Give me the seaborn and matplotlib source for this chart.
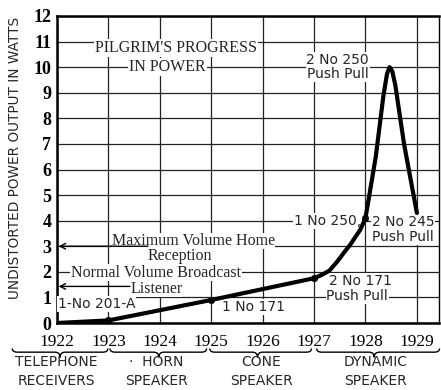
import matplotlib
matplotlib.use("Agg")
import matplotlib.pyplot as plt
import matplotlib.transforms as mtransforms
from matplotlib.path import Path
from matplotlib.patches import PathPatch
import seaborn as sns
import pandas as pd

# Power curve (year, watts)
curve_year = [1922.0, 1923.0, 1925.0, 1927.0, 1927.15, 1927.3, 1927.45, 1927.6,
              1927.7, 1927.8, 1927.9, 1928.0, 1928.2, 1928.35, 1928.42, 1928.47,
              1928.52, 1928.58, 1928.75, 1929.0]
curve_watts = [0.0, 0.1, 0.9, 1.75, 1.88, 2.05, 2.4, 2.8,
               3.05, 3.35, 3.65, 4.1, 6.5, 8.9, 9.75, 10.0,
               9.85, 9.3, 7.0, 4.3]

# Tube milestones marked on the curve
tube_year = [1923.0, 1925.0, 1927.0, 1928.0]
tube_watts = [0.1, 0.9, 1.75, 4.1]

year_ticks = [1922, 1923, 1924, 1925, 1926, 1927, 1928, 1929]
watt_ticks = list(range(0, 13))

# Loudspeaker eras along the time axis
era_start = [1921.13, 1923.03, 1924.97, 1927.05]
era_mid = [1922.06, 1923.98, 1925.9, 1928.17]
era_end = [1922.99, 1924.91, 1926.95, 1929.44]
era_line1 = ["TELEPHONE", "·  HORN", "CONE", "DYNAMIC"]
era_line2 = ["RECEIVERS", "SPEAKER", "SPEAKER", "SPEAKER"]
era_label_x = [1921.98, 1923.93, 1925.98, 1928.19]

sns.set_style("white")
plt.rcParams["font.family"] = ["DejaVu Sans"]

SERIF = "Liberation Serif"
SANS = "DejaVu Sans"

fig = plt.figure(figsize=(4.41, 3.9), dpi=100)
ax = fig.add_axes([57 / 441, 1 - 323 / 390, (439 - 57) / 441, (323 - 16) / 390])

df = pd.DataFrame({"year": curve_year, "watts": curve_watts})
sns.lineplot(data=df, x="year", y="watts", sort=False, color="black",
             linewidth=3.0, ax=ax, zorder=6, solid_joinstyle="round",
             solid_capstyle="round")
sns.scatterplot(x=tube_year, y=tube_watts, color="black", s=22, marker="o",
                edgecolor="black", ax=ax, zorder=7)

ax.set_xlim(1922, 1929.43)
ax.set_ylim(0, 12)
ax.set_xticks(year_ticks)
ax.set_xticklabels([str(y) for y in year_ticks], fontfamily=SERIF, fontsize=12.5)
ax.set_yticks(watt_ticks)
ax.set_yticklabels([str(w) for w in watt_ticks], fontfamily=SERIF, fontsize=13,
                   fontweight="bold")
ax.tick_params(axis="x", length=0, pad=8, colors="black")
ax.tick_params(axis="y", length=0, pad=4, colors="black")
ax.set_xlabel("")
ax.set_ylabel("")
ax.grid(True, color="#222222", linewidth=0.9, zorder=1)
ax.set_axisbelow(True)
for side in ["left", "bottom", "top", "right"]:
    ax.spines[side].set_visible(True)
    ax.spines[side].set_color("black")
    ax.spines[side].set_linewidth(1.8)
ax.spines["right"].set_linewidth(1.0)

fig.text(15 / 441, 1 - 158 / 390, "UNDISTORTED POWER OUTPUT IN WATTS",
         rotation=90, ha="center", va="center", fontsize=9.8, fontfamily=SANS)

box = dict(facecolor="white", edgecolor="none", pad=0.6)
tight = dict(facecolor="white", edgecolor="none", pad=0.0)

# Title block
ax.text(1924.32, 10.75, "PILGRIM'S PROGRESS", fontfamily=SERIF, fontsize=11.5,
        ha="center", va="center", bbox=box, zorder=4)
ax.text(1924.15, 10.0, "IN POWER", fontfamily=SERIF, fontsize=11.5,
        ha="center", va="center", bbox=box, zorder=4)

# Listening levels with arrows to the axis
ax.text(1924.66, 3.2, "Maximum Volume Home", fontfamily=SERIF, fontsize=11.5,
        ha="center", va="center", zorder=4, bbox=tight)
ax.text(1924.39, 2.62, "Reception", fontfamily=SERIF, fontsize=11.5,
        ha="center", va="center", bbox=box, zorder=4)
ax.annotate("", xy=(1922.03, 3.0), xytext=(1923.77, 3.0),
            arrowprops=dict(arrowstyle="->", lw=1.0, color="black",
                            shrinkA=0, shrinkB=0), zorder=5)

ax.text(1923.93, 1.97, "Normal Volume Broadcast", fontfamily=SERIF, fontsize=11.5,
        ha="center", va="center", bbox=box, zorder=4)
ax.text(1923.93, 1.33, "Listener", fontfamily=SERIF, fontsize=11.5,
        ha="center", va="center", bbox=tight, zorder=4)
ax.annotate("", xy=(1922.03, 1.43), xytext=(1923.42, 1.43),
            arrowprops=dict(arrowstyle="->", lw=1.0, color="black",
                            shrinkA=0, shrinkB=0), zorder=5)

# Tube labels
lab = dict(fontfamily=SANS, fontsize=10, zorder=4)
ax.text(1922.02, 0.74, "1-No 201-A", ha="left", va="center", bbox=box, **lab)
ax.text(1925.2, 0.63, "1 No 171", ha="left", va="center", bbox=box, **lab)
ax.text(1927.3, 1.64, "2 No 171", ha="left", va="center", bbox=box, **lab)
ax.text(1927.24, 1.06, "Push Pull", ha="left", va="center", bbox=box, **lab)
ax.text(1927.92, 4.0, "1 No 250,", ha="right", va="center", bbox=box, **lab)
ax.text(1928.12, 3.95, "2 No 245", ha="left", va="center", bbox=box, **lab)
ax.text(1928.13, 3.36, "Push Pull", ha="left", va="center", bbox=box, **lab)
ax.text(1926.85, 10.28, "2 No 250", ha="left", va="center", bbox=box, **lab)
ax.text(1926.87, 9.73, "Push Pull", ha="left", va="center", bbox=box, **lab)

# Era braces and captions below the year axis
trans = mtransforms.blended_transform_factory(ax.transData, ax.transAxes)
y_top, y_mid, y_bot = -0.083, -0.095, -0.112
dx = 0.1
for x0, xm, x1 in zip(era_start, era_mid, era_end):
    verts = [(x0, y_top), (x0, y_mid), (x0 + dx, y_mid),
             (xm - dx, y_mid), (xm, y_mid), (xm, y_bot),
             (xm, y_bot), (xm, y_mid), (xm + dx, y_mid),
             (x1 - dx, y_mid), (x1, y_mid), (x1, y_top)]
    codes = [Path.MOVETO, Path.CURVE3, Path.CURVE3,
             Path.LINETO, Path.CURVE3, Path.CURVE3,
             Path.MOVETO, Path.CURVE3, Path.CURVE3,
             Path.LINETO, Path.CURVE3, Path.CURVE3]
    patch = PathPatch(Path(verts, codes), transform=trans, facecolor="none",
                      edgecolor="black", lw=1.0, clip_on=False)
    ax.add_patch(patch)

for x, l1, l2 in zip(era_label_x, era_line1, era_line2):
    ax.text(x, -0.127, l1, transform=trans, ha="center", va="center",
            fontfamily=SANS, fontsize=10, clip_on=False)
    ax.text(x, -0.189, l2, transform=trans, ha="center", va="center",
            fontfamily=SANS, fontsize=10, clip_on=False)

fig.savefig("out.png", dpi=100)
